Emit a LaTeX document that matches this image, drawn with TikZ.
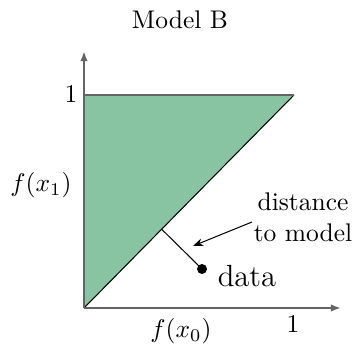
\documentclass[tikz,border=0pt]{standalone}
\usetikzlibrary{calc,arrows.meta}
\definecolor{modelgreen}{RGB}{136,196,161}
\definecolor{axisgray}{RGB}{100,100,100}
\begin{document}
\begin{tikzpicture}[x=0.392pt,y=-0.392pt,
  axisline/.style={draw=axisgray,line width=0.8pt,-{Latex[length=4pt,width=3pt]}},
  lbl/.style={inner sep=0pt}]
\useasboundingbox (0,0) rectangle (354,344);
\coordinate (O) at (84,308);
\coordinate (TL) at (84,95);
\coordinate (TR) at (294,95);
\coordinate (D) at (202,269);
\fill[modelgreen] (O) -- (TL) -- (TR) -- cycle;
\draw[black,line width=0.4pt] (O) -- (TR);
\draw[axisgray,line width=0.8pt] (TL) -- (TR);
\coordinate (XE) at (341,308);
\coordinate (YE) at (84,51);
\draw[axisline] (O) -- (XE);
\draw[axisline] (O) -- (YE);
\coordinate (F) at ($(O)!(D)!(TR)$);
\draw[line width=0.4pt] (F) -- (D);
\fill (D) circle (5);
\node[lbl,anchor=base] (data) at (247,287) {\large data};
\node[lbl,align=center] (dist) at (303,217) {distance\\to model};
\coordinate (AT) at (193,246);
\draw[-{Stealth[length=4pt,width=3pt]},line width=0.4pt] (252,222) coordinate (AS) -- (AT);
\node[lbl] (title) at (180,20) {Model B};
\node[lbl] (one y) at (71,94) {1};
\node[lbl] (one x) at (293,324) {1};
\node[lbl] (fx1) at (41,185) {$f(x_1)$};
\node[lbl] (fx0) at (181,331) {$f(x_0)$};
\end{tikzpicture}
\end{document}
